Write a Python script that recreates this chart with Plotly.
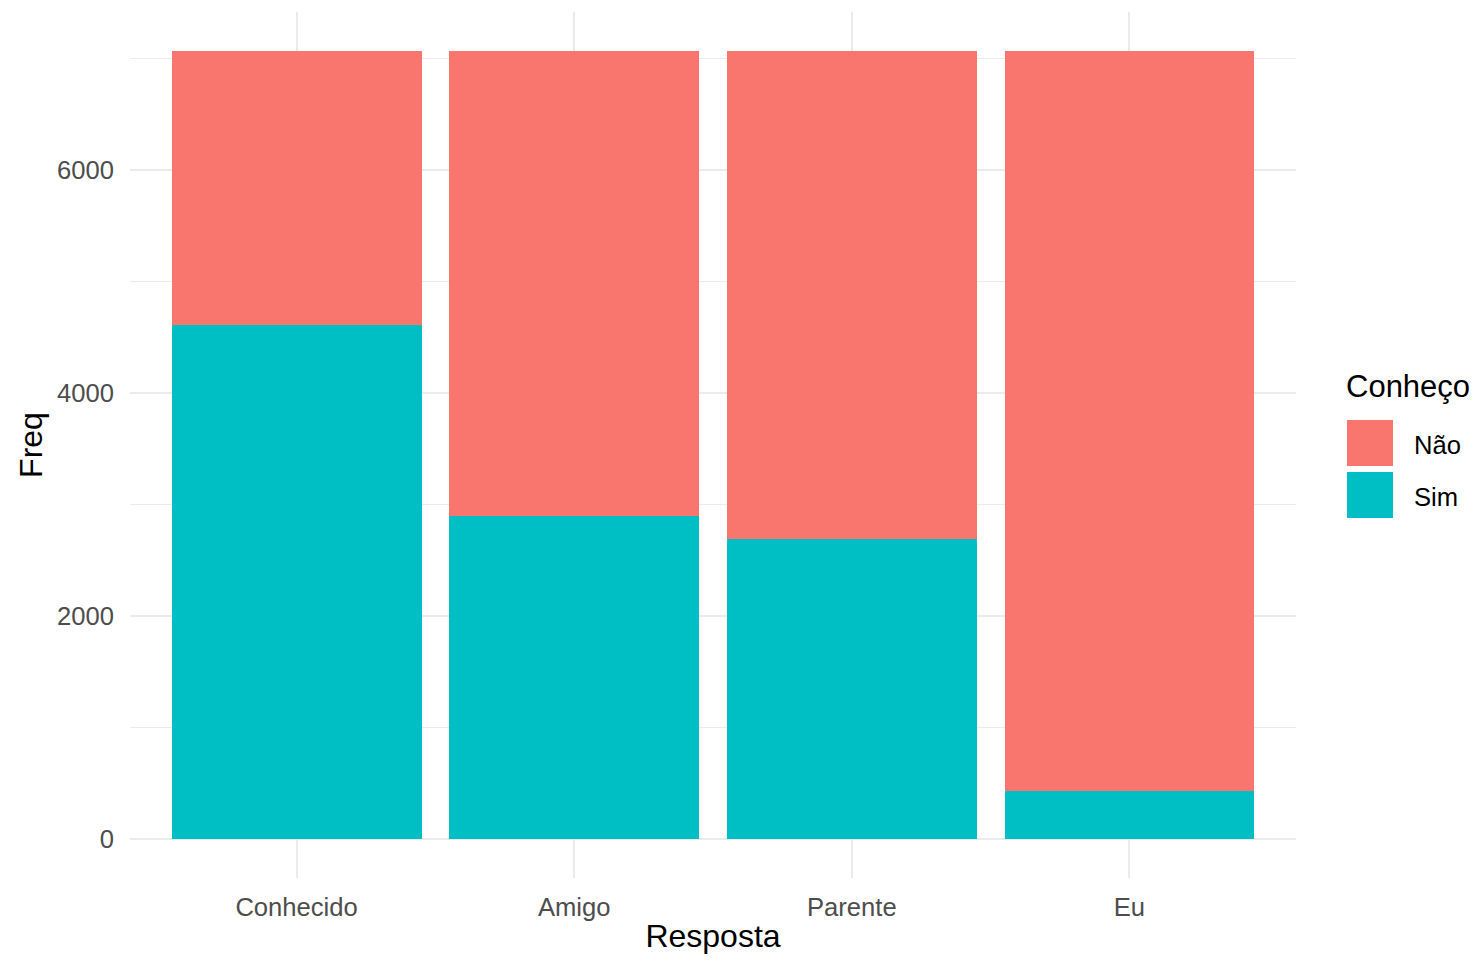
import plotly.graph_objects as go

categories = ["Conhecido", "Amigo", "Parente", "Eu"]
sim = [4610, 2896, 2690, 430]
nao = [2456, 4170, 4376, 6636]
series_names = ["Não", "Sim"]
colors = {"Não": "#F8766D", "Sim": "#00BFC4"}
y_ticks = [0, 2000, 4000, 6000]

FONT = "Liberation Sans, Arial, sans-serif"
OFF = 8  # page body margin
W, H = 1464, 946
L, T = 122, 4
R = W - 1288
B = H - 870

total = max(a + b for a, b in zip(sim, nao))
pad = 0.05 * total

fig = go.Figure()
fig.add_trace(go.Bar(x=categories, y=sim, name="Sim", marker=dict(color=colors["Sim"], line=dict(width=0)), showlegend=False))
fig.add_trace(go.Bar(x=categories, y=nao, name="Não", marker=dict(color=colors["Não"], line=dict(width=0)), showlegend=False))

fig.update_layout(
    width=W, height=H,
    margin=dict(l=L, r=R, t=T, b=B, pad=0),
    barmode="stack", bargap=0.1,
    plot_bgcolor="white", paper_bgcolor="white",
    font=dict(family=FONT, color="#4D4D4D"),
)
fig.update_xaxes(
    range=[-0.6, len(categories) - 0.4],
    automargin=False,
    showgrid=True, gridcolor="#EBEBEB", gridwidth=2,
    zeroline=False, showline=False,
    ticks="outside", ticklen=6, tickcolor="rgba(0,0,0,0)",
    tickfont=dict(size=25.6, color="#4D4D4D", family=FONT),
    title=dict(text="Resposta", font=dict(size=32, color="black", family=FONT), standoff=15),
)
fig.update_yaxes(
    range=[-pad, total + pad],
    automargin=False,
    tickvals=y_ticks, ticktext=[str(v) for v in y_ticks],
    showgrid=True, gridcolor="#EBEBEB", gridwidth=2,
    minor=dict(dtick=1000, tick0=0, showgrid=True, gridcolor="#EBEBEB", gridwidth=1),
    zeroline=False, showline=False,
    ticks="outside", ticklen=10, tickcolor="rgba(0,0,0,0)",
    tickfont=dict(size=25.6, color="#4D4D4D", family=FONT),
    title=dict(text="Freq", font=dict(size=32, color="black", family=FONT), standoff=4),
)

pw = W - L - R
ph = H - T - B
def px(p):
    return (p - OFF - L) / pw
def py(p):
    return (H - B - (p - OFF)) / ph

# legend (drawn manually to match large keys)
fig.add_annotation(x=px(1344), y=py(387), xref="paper", yref="paper", text="Conheço",
                   showarrow=False, xanchor="left", yanchor="middle",
                   font=dict(size=31, color="black", family=FONT))
key_tops = [420, 472]
for name, top in zip(series_names, key_tops):
    fig.add_shape(type="rect", xref="paper", yref="paper",
                  x0=px(1347), x1=px(1393), y0=py(top + 46), y1=py(top),
                  fillcolor=colors[name], line=dict(width=0))
    fig.add_annotation(x=px(1412), y=py(top + 25), xref="paper", yref="paper", text=name,
                       showarrow=False, xanchor="left", yanchor="middle",
                       font=dict(size=25.6, color="black", family=FONT))

fig.write_html("out.html")
